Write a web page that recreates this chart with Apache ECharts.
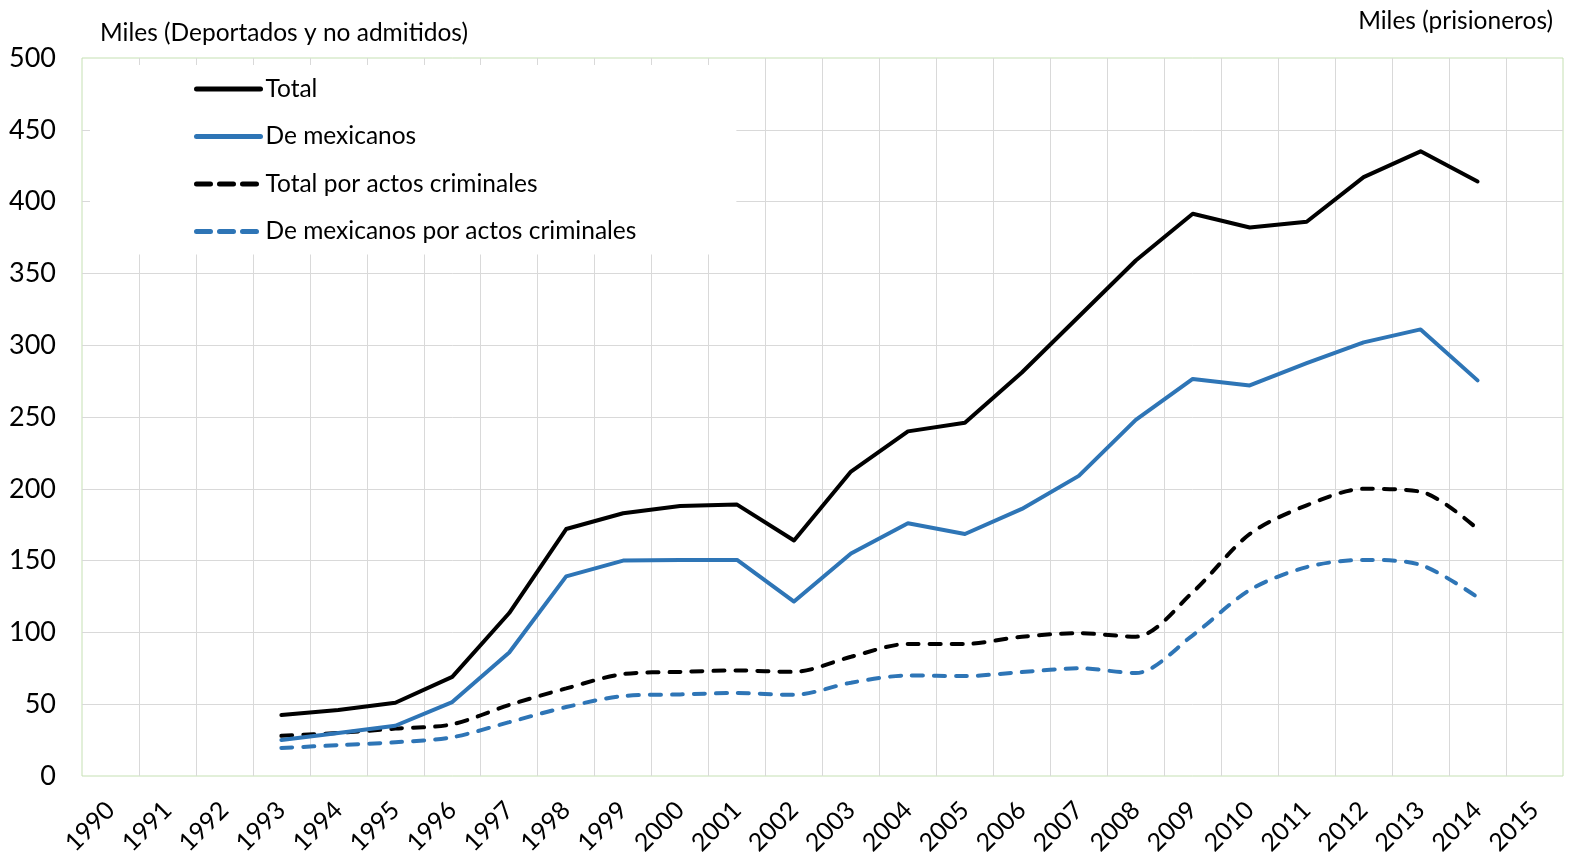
<!DOCTYPE html>
<html>
<head>
<meta charset="utf-8">
<title>Deportados y no admitidos</title>
<script src="https://cdn.jsdelivr.net/npm/echarts@6/dist/echarts.min.js"></script>
<style>
    html, body { margin: 0; padding: 0; background: #fff; }
    #chart { width: 1569px; height: 862px; }
</style>
</head>
<body>
<div id="chart"></div>
<script>
// años del eje x
const years = ['1990', '1991', '1992', '1993', '1994', '1995', '1996', '1997', '1998', '1999', '2000', '2001', '2002',
    '2003', '2004', '2005', '2006', '2007', '2008', '2009', '2010', '2011', '2012', '2013', '2014', '2015']

// miles de personas
const total = [null, null, null, 42.5, 46, 51, 69, 113.5, 172, 183, 188, 189, 164,
    212, 240, 246, 281, 320, 359, 391.5, 382, 386, 417, 435, 414, null]
const mexicanos = [null, null, null, 25, 30, 35, 51.5, 86, 139, 150, 150.5, 150.5, 121.5,
    155, 176, 168.5, 186, 209, 248, 276.5, 272, 287.5, 302, 311, 275.5, null]
const totalCriminales = [null, null, null, 28, 30, 33, 36, 49.5, 61, 71, 72.5, 73.5, 72.5,
    83, 92, 92, 97, 99.5, 97, 128, 168.5, 188.5, 200, 198, 172, null]
const mexicanosCriminales = [null, null, null, 19.5, 21.5, 23.5, 27, 37.5, 48, 55.7, 56.8, 57.8, 56.5,
    65, 70, 69.6, 72.4, 75, 71.7, 98, 129.5, 145.5, 150.5, 147, 124.5, null]

const yTicks = { min: 0, max: 500, interval: 50 }

const FONT = 'Lato'
const AZUL = '#2e75b6'
const VERDE = '#c5e0b3'
const GRIS = '#d9d9d9'

const myChart = echarts.init(document.getElementById('chart'))

const legendDash = { type: [14, 9], width: 5, cap: 'round' }

const option = {
    animation: false,
    textStyle: { fontFamily: FONT },
    graphic: [
        {
            type: 'text', left: 100, top: 21,
            style: { text: 'Miles (Deportados y no admitidos)', fontSize: 24.5, fontFamily: FONT, fill: '#000' }
        },
        {
            type: 'text', right: 16, top: 9,
            style: { text: 'Miles (prisioneros)', fontSize: 24.5, fontFamily: FONT, fill: '#000' }
        }
    ],
    legend: {
        orient: 'vertical',
        left: 90,
        top: 65,
        padding: [11, 100, 10, 104],
        backgroundColor: '#fff',
        itemWidth: 64,
        itemHeight: 20,
        itemGap: 21.5,
        itemStyle: { opacity: 0 },
        lineStyle: { width: 5, cap: 'round' },
        textStyle: { fontSize: 24.5, lineHeight: 26, color: '#000', fontFamily: FONT },
        data: [
            { name: 'Total' },
            { name: 'De mexicanos' },
            { name: 'Total por actos criminales', lineStyle: legendDash },
            { name: 'De mexicanos por actos criminales', lineStyle: legendDash }
        ]
    },
    grid: {
        left: 82,
        right: 6,
        top: 58,
        bottom: 86,
        show: true,
        borderColor: VERDE,
        borderWidth: 1
    },
    xAxis: {
        type: 'category',
        data: years,
        boundaryGap: true,
        axisLine: { show: false },
        axisTick: { show: false },
        axisLabel: { rotate: 45, fontSize: 25, color: '#000', margin: 30, interval: 0 },
        splitLine: {
            show: true,
            interval: 0,
            showMinLine: false,
            showMaxLine: false,
            lineStyle: { color: GRIS, width: 1 }
        }
    },
    yAxis: {
        type: 'value',
        min: yTicks.min,
        max: yTicks.max,
        interval: yTicks.interval,
        axisLine: { show: false },
        axisTick: { show: false },
        axisLabel: { fontSize: 27, color: '#000', margin: 26 },
        splitLine: { show: true, showMinLine: false, showMaxLine: false, lineStyle: { color: GRIS, width: 1 } }
    },
    series: [
        {
            name: 'Total',
            type: 'line',
            data: total,
            symbol: 'none',
            lineStyle: { color: '#000', width: 4, cap: 'round', join: 'round' },
            itemStyle: { color: '#000' },
            z: 5
        },
        {
            name: 'De mexicanos',
            type: 'line',
            data: mexicanos,
            symbol: 'none',
            lineStyle: { color: AZUL, width: 4, cap: 'round', join: 'round' },
            itemStyle: { color: AZUL },
            z: 4
        },
        {
            name: 'Total por actos criminales',
            type: 'line',
            data: totalCriminales,
            symbol: 'none',
            smooth: 0.3,
            lineStyle: { color: '#000', width: 4, type: [11, 11], cap: 'round' },
            itemStyle: { color: '#000' },
            z: 3
        },
        {
            name: 'De mexicanos por actos criminales',
            type: 'line',
            data: mexicanosCriminales,
            symbol: 'none',
            smooth: 0.3,
            lineStyle: { color: AZUL, width: 4, type: [11, 11], cap: 'round' },
            itemStyle: { color: AZUL },
            z: 2
        }
    ]
}

myChart.setOption(option)
</script>
</body>
</html>
